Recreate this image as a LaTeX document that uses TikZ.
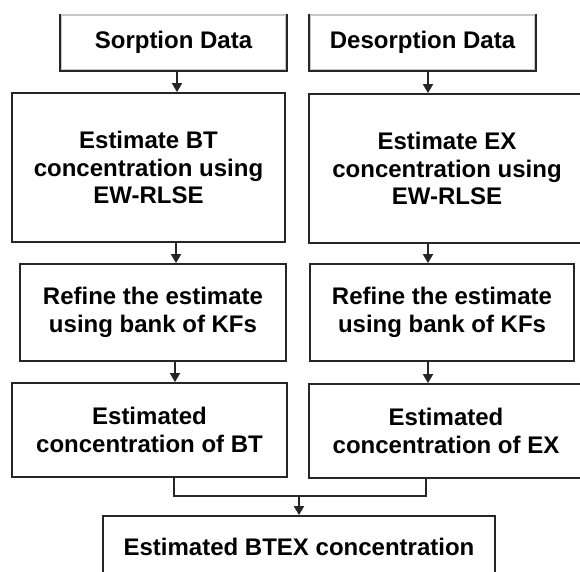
\documentclass[tikz,border=0pt]{standalone}
\usepackage{fontspec}
\setmainfont{Liberation Sans}
\usetikzlibrary{arrows.meta}
\tikzset{
  box/.style={draw=black!85, line width=1.8pt, align=center, inner sep=0pt,
    font=\bfseries\fontsize{24}{27.6}\selectfont, text=black},
  conn/.style={draw=black!85, line width=1.8pt},
  arr/.style={conn, -{Triangle[width=10pt,length=9pt]}},
}
\begin{document}
\begin{tikzpicture}[x=1pt,y=-1pt]
\useasboundingbox (0,0) rectangle (580,571);
\begin{scope}
\clip (0,0) rectangle (580,571);
\node[box, draw=black!22, minimum width=225pt, minimum height=55pt] (sorp) at (173.5,42.5) {Sorption Data};
\node[box, draw=black!22, minimum width=225pt, minimum height=55pt] (desorp) at (422.5,42.5) {Desorption Data};
\draw[conn] (sorp.north west) -- (sorp.south west) -- (sorp.south east) -- (sorp.north east);
\draw[conn] (desorp.north west) -- (desorp.south west) -- (desorp.south east) -- (desorp.north east);
\node[box, minimum width=273pt, minimum height=149pt] (estBT) at (148.5,167.5) {Estimate BT\\concentration using\\EW-RLSE};
\node[box, minimum width=276pt, minimum height=149pt] (estEX) at (447,168.5) {Estimate EX\\concentration using\\EW-RLSE};
\node[box, minimum width=266pt, minimum height=97pt] (refBT) at (153,312.5) {Refine the estimate\\using bank of KFs};
\node[box, minimum width=264pt, minimum height=97pt] (refEX) at (442,312.5) {Refine the estimate\\using bank of KFs};
\node[box, minimum width=275pt, minimum height=94pt] (estdBT) at (149.5,430) {Estimated\\concentration of BT};
\node[box, minimum width=274pt, minimum height=94pt] (estdEX) at (446,431) {Estimated\\concentration of EX};
\node[box, minimum width=392pt, minimum height=62pt] (btex) at (299,547) {Estimated BTEX concentration};
\coordinate (j) at (299,496);

\draw[arr] (177,0 |- sorp.south) -- (177,0 |- estBT.north);
\draw[arr] (176,0 |- estBT.south) -- (176,0 |- refBT.north);
\draw[arr] (175,0 |- refBT.south) -- (175,0 |- estdBT.north);
\draw[arr] (428,0 |- desorp.south) -- (428,0 |- estEX.north);
\draw[arr] (428,0 |- estEX.south) -- (428,0 |- refEX.north);
\draw[arr] (428,0 |- refEX.south) -- (428,0 |- estdEX.north);
\draw[conn] (174,0 |- estdBT.south) -- (174,0 |- j) -- (426,0 |- j) -- (426,0 |- estdEX.south);
\draw[arr] (j) -- (btex.north);
\end{scope}
\end{tikzpicture}
\end{document}
